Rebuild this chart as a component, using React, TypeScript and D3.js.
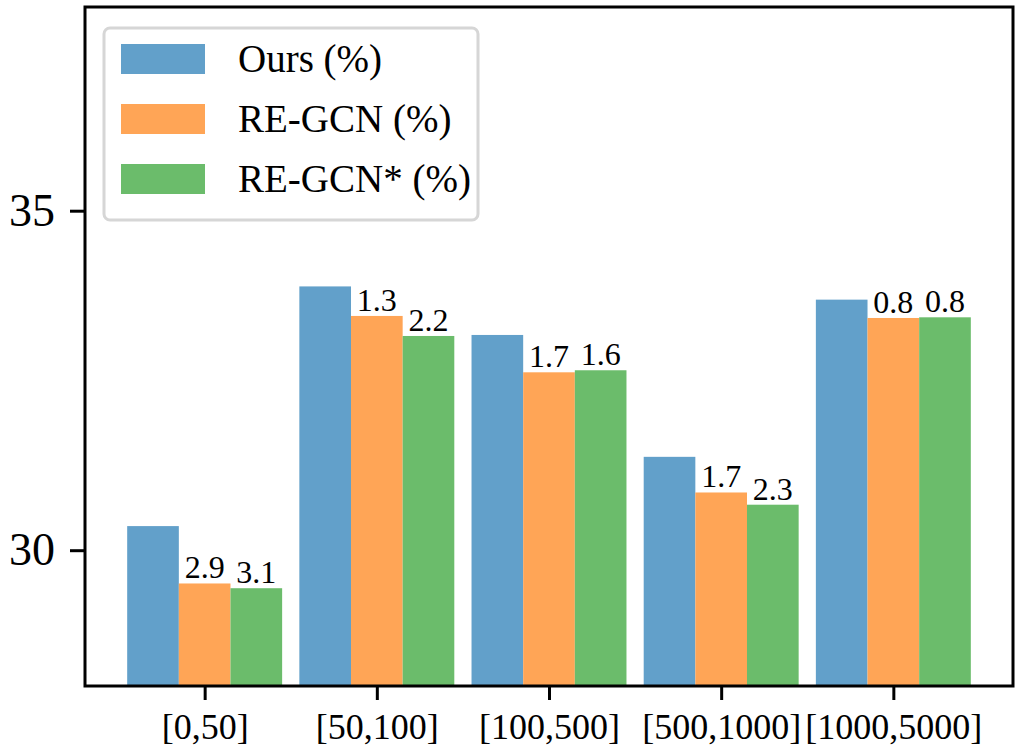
import React, { useEffect, useRef } from "react";
import * as d3 from "d3";

const categories = ["[0,50]", "[50,100]", "[100,500]", "[500,1000]", "[1000,5000]"];
const seriesNames = ["Ours (%)", "RE-GCN (%)", "RE-GCN* (%)"];
const ours = [30.355, 33.885, 33.17, 31.375, 33.69];
const reGcn = [29.51, 33.45, 32.62, 30.85, 33.42];
const reGcnStar = [29.44, 33.155, 32.65, 30.67, 33.43];
const reGcnLabels = ["2.9", "1.3", "1.7", "1.7", "0.8"];
const reGcnStarLabels = ["3.1", "2.2", "1.6", "2.3", "0.8"];
const yTicks = [30, 35];

const colors = ["#62a0ca", "#ffa556", "#6bbc6b"];
const font = "'Liberation Serif', 'DejaVu Serif', serif";

export default function App() {
    const ref = useRef<SVGSVGElement>(null);

    useEffect(() => {
        const width = 1021;
        const height = 755;
        const margin = { top: 7, right: 8, bottom: 69, left: 85 };
        const svg = d3.select(ref.current);
        svg.selectAll("*").remove();

        const x = d3.scaleLinear()
            .domain([-0.695, 4.695])
            .range([margin.left, width - margin.right]);
        const y = d3.scaleLinear()
            .domain([28, 38])
            .range([height - margin.bottom, margin.top]);

        const barW = 0.3;
        const series = [ours, reGcn, reGcnStar];
        const labels = [null, reGcnLabels, reGcnStarLabels];

        series.forEach((vals, s) => {
            svg.append("g")
                .selectAll("rect")
                .data(vals)
                .enter()
                .append("rect")
                .attr("x", (d, i) => x(i + (s - 1) * barW - barW / 2))
                .attr("y", d => y(d))
                .attr("width", x(barW) - x(0))
                .attr("height", d => y(28) - y(d))
                .attr("fill", colors[s]);
        });

        // percentage labels over the baseline bars
        series.forEach((vals, s) => {
            const labs = labels[s];
            if (!labs) return;
            svg.append("g")
                .selectAll("text")
                .data(vals)
                .enter()
                .append("text")
                .attr("x", (d, i) => x(i + (s - 1) * barW))
                .attr("y", d => y(d) - 5)
                .attr("text-anchor", "middle")
                .attr("font-family", font)
                .attr("font-size", 32)
                .text((d, i) => labs[i]);
        });

        // y axis
        const yAxis = svg.append("g")
            .attr("transform", `translate(${margin.left},0)`)
            .call(d3.axisLeft(y).tickValues(yTicks).tickSize(15).tickPadding(15).tickFormat(d3.format("d")));
        yAxis.select(".domain").remove();
        yAxis.selectAll("line").attr("stroke", "#000").attr("stroke-width", 3);
        yAxis.selectAll("text")
            .attr("font-family", font)
            .attr("font-size", 46)
            .attr("fill", "#000");

        // x axis
        const xAxis = svg.append("g")
            .attr("transform", `translate(0,${height - margin.bottom})`)
            .call(d3.axisBottom(x).tickValues(d3.range(categories.length)).tickSize(14).tickPadding(13)
                .tickFormat((d) => categories[+d]));
        xAxis.select(".domain").remove();
        xAxis.selectAll("line").attr("stroke", "#000").attr("stroke-width", 3);
        xAxis.selectAll("text")
            .attr("font-family", font)
            .attr("font-size", 36)
            .attr("fill", "#000");

        // frame
        svg.append("rect")
            .attr("x", margin.left)
            .attr("y", margin.top)
            .attr("width", width - margin.left - margin.right)
            .attr("height", height - margin.top - margin.bottom)
            .attr("fill", "none")
            .attr("stroke", "#000")
            .attr("stroke-width", 3);

        // legend
        const legend = svg.append("g").attr("transform", "translate(104,28)");
        legend.append("rect")
            .attr("width", 374)
            .attr("height", 192)
            .attr("rx", 6)
            .attr("fill", "#fff")
            .attr("fill-opacity", 0.8)
            .attr("stroke", "#d6d6d6")
            .attr("stroke-width", 3);
        seriesNames.forEach((name, i) => {
            const row = legend.append("g").attr("transform", `translate(0,${16 + i * 60})`);
            row.append("rect")
                .attr("x", 17)
                .attr("width", 84)
                .attr("height", 30)
                .attr("fill", colors[i]);
            row.append("text")
                .attr("x", 134)
                .attr("y", 28)
                .attr("font-family", font)
                .attr("font-size", 39)
                .text(name);
        });
    }, []);

    return (
        <svg ref={ref} width={1021} height={755}
            style={{ position: "absolute", left: 0, top: 0, background: "#fff" }} />
    );
}
